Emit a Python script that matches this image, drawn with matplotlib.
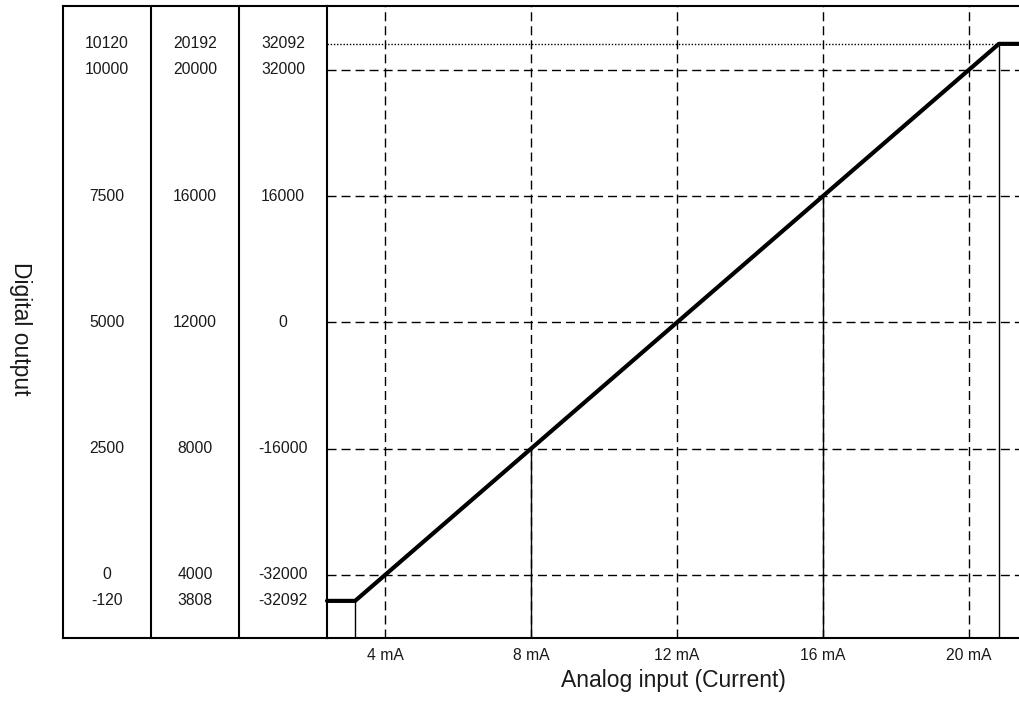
import matplotlib.pyplot as plt

plt.rcParams['font.family'] = ['Liberation Sans', 'DejaVu Sans']

# analog input (mA) and the matching digital value in the +/-32000 range
current_ma = [4, 8, 12, 16, 20]
digital_grid = [-32000, -16000, 0, 16000, 32000]

# clamped ends of the transfer curve (drawn a bit outside the range, schematic)
clamp_ma = [3.18, 20.82]
clamp_level = [-35300, 35300]
x_range = (2.41, 21.37)
y_range = (-40000, 40100)

# row positions (in the third column's scale) and the three label columns
row_pos = [-35300, -32000, -16000, 0, 16000, 32000, 35300]
col_a = ["-120", "0", "2500", "5000", "7500", "10000", "10120"]
col_b = ["3808", "4000", "8000", "12000", "16000", "20000", "20192"]
col_c = ["-32092", "-32000", "-16000", "0", "16000", "32000", "32092"]

fig = plt.figure(figsize=(10.19, 7.04), dpi=100)
bottom, height = 0.0938, 0.8977
tab = fig.add_axes([0.0618, bottom, 0.2591, height])
ax = fig.add_axes([0.3209, bottom, 0.6791, height], sharey=tab)

# label table on the left
tab.set_xlim(0, 3)
tab.set_ylim(*y_range)
for i, col in enumerate([col_a, col_b, col_c]):
    for y, s in zip(row_pos, col):
        tab.text(i + 0.5, y, s, ha="center", va="center", fontsize=11.3, color="#1a1a1a")
for xv in [1, 2]:
    tab.axvline(xv, color="black", lw=1.5)
tab.spines["right"].set_visible(False)
for s in ["left", "top", "bottom"]:
    tab.spines[s].set_linewidth(1.5)
tab.set_xticks([])
tab.tick_params(left=False, labelleft=False)

# main plot
ax.set_xlim(*x_range)
for s in ["left", "top", "bottom"]:
    ax.spines[s].set_linewidth(1.5)
ax.spines["right"].set_visible(False)

dash = (0, (6.5, 3.6))
for xv in current_ma:
    ax.axvline(xv, color="black", lw=1.0, linestyle=dash)
for yv in digital_grid:
    ax.axhline(yv, color="black", lw=1.0, linestyle=dash)

# dotted line at the top clamp
ax.plot([x_range[0], clamp_ma[1]], [clamp_level[1]] * 2, color="black", lw=1.0, linestyle=(0, (1, 1.3)))

# thin drop lines
drops_x = [clamp_ma[0], current_ma[1], current_ma[3], clamp_ma[1]]
drops_y = [clamp_level[0], digital_grid[1], digital_grid[3], clamp_level[1]]
for xv, yv in zip(drops_x, drops_y):
    ax.plot([xv, xv], [y_range[0], yv], color="black", lw=1.0)

# transfer curve
curve_x = [x_range[0], clamp_ma[0], clamp_ma[1], x_range[1]]
curve_y = [clamp_level[0], clamp_level[0], clamp_level[1], clamp_level[1]]
ax.plot(curve_x, curve_y, color="black", lw=3.0, solid_capstyle="round", clip_on=False)

ax.set_xticks(current_ma)
ax.set_xticklabels([f"{v} mA" for v in current_ma], fontsize=11.3, color="#1a1a1a")
ax.tick_params(axis="x", length=0, pad=7)
ax.tick_params(axis="y", left=False, labelleft=False)

fig.text(0.5 * (0.3209 + 1.0), 0.034, "Analog input (Current)", ha="center", va="center", fontsize=16.5, color="#1a1a1a")
fig.text(0.02, bottom + height * 0.5 - 0.01, "Digital output", rotation=270, ha="center", va="center", fontsize=16.5, color="#1a1a1a")

fig.savefig("out.png", dpi=100)
